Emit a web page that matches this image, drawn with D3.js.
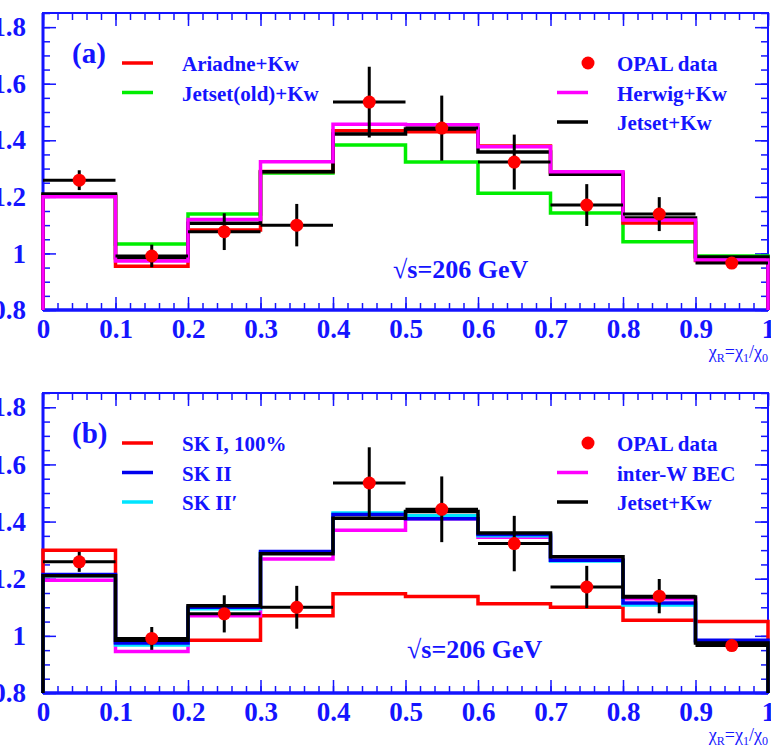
<!DOCTYPE html>
<html>
<head>
<meta charset="utf-8">
<script src="https://cdn.jsdelivr.net/npm/d3@7"></script>
<style>
  body { margin: 0; background: #fff; }
  text { font-family: "Liberation Serif", "Times New Roman", serif; font-weight: bold; fill: #1414ff; }
</style>
</head>
<body>
<div id="chart"></div>
<script>
// bin edges and OPAL points
var binEdges = [0, 0.1, 0.2, 0.3, 0.4, 0.5, 0.6, 0.7, 0.8, 0.9, 1.0];
var opalX = [0.05, 0.15, 0.25, 0.35, 0.45, 0.55, 0.65, 0.75, 0.85, 0.95];
var opalY = [1.259, 0.991, 1.077, 1.10, 1.535, 1.443, 1.323, 1.171, 1.139, 0.966];
var opalErr = [0.035, 0.04, 0.065, 0.075, 0.125, 0.115, 0.097, 0.074, 0.06, 0.015];

// panel (a) models
var ariadneKw = [1.205, 0.955, 1.083, 1.29, 1.434, 1.43, 1.38, 1.285, 1.108, 0.975];
var jetsetOldKw = [1.205, 1.033, 1.139, 1.284, 1.383, 1.323, 1.213, 1.143, 1.041, 0.991];
var herwigKw = [1.20, 0.973, 1.12, 1.324, 1.457, 1.455, 1.377, 1.289, 1.118, 0.977];
var jetsetKwA = [1.21, 0.985, 1.107, 1.289, 1.422, 1.44, 1.359, 1.28, 1.125, 0.987];

// panel (b) models
var skI = [1.30, 0.978, 0.985, 1.07, 1.147, 1.138, 1.112, 1.10, 1.055, 1.05];
var skII = [1.215, 0.975, 1.10, 1.295, 1.425, 1.41, 1.355, 1.265, 1.115, 0.985];
var skIIp = [1.21, 0.968, 1.095, 1.29, 1.43, 1.42, 1.35, 1.262, 1.108, 0.98];
var interW = [1.195, 0.945, 1.07, 1.269, 1.37, 1.41, 1.345, 1.265, 1.13, 0.98];
var jetsetKwB = [1.21, 0.985, 1.105, 1.287, 1.412, 1.435, 1.36, 1.277, 1.136, 0.975];

var xTicks = [0, 0.1, 0.2, 0.3, 0.4, 0.5, 0.6, 0.7, 0.8, 0.9, 1];
var yTicks = [0.8, 1.0, 1.2, 1.4, 1.6, 1.8];

var blue = "#1414ff";
var svg = d3.select("#chart").append("svg").attr("width", 771).attr("height", 749);

var x = d3.scaleLinear().domain([0, 1]).range([43, 768]);
var xMinor = d3.range(0, 1.001, 0.02);
var yMinor = d3.range(0.8, 1.851, 0.05);
var fmt = function(d){ return String(+d.toFixed(2)); };

function histPoints(vals, y0) {
  var pts = [[0, y0]];
  vals.forEach(function(v, i){ pts.push([binEdges[i], v]); pts.push([binEdges[i+1], v]); });
  pts.push([1, y0]);
  return pts;
}

function drawPanel(top, bottom, series, tag, legL, legR) {
  var y = d3.scaleLinear().domain([0.8, 1.85]).range([bottom, top]);
  var g = svg.append("g");

  // minor ticks
  g.append("g").attr("transform", "translate(0," + bottom + ")")
    .call(d3.axisBottom(x).tickValues(xMinor).tickSize(-7).tickFormat(""));
  g.append("g").attr("transform", "translate(0," + top + ")")
    .call(d3.axisTop(x).tickValues(xMinor).tickSize(-7).tickFormat(""));
  g.append("g").attr("transform", "translate(43,0)")
    .call(d3.axisLeft(y).tickValues(yMinor).tickSize(-7).tickFormat(""));
  g.append("g").attr("transform", "translate(768,0)")
    .call(d3.axisRight(y).tickValues(yMinor).tickSize(-7).tickFormat(""));

  // major ticks with labels
  g.append("g").attr("class", "xax").attr("transform", "translate(0," + bottom + ")")
    .call(d3.axisBottom(x).tickValues(xTicks).tickSize(-13).tickPadding(9).tickFormat(fmt));
  g.append("g").attr("transform", "translate(0," + top + ")")
    .call(d3.axisTop(x).tickValues(xTicks).tickSize(-13).tickFormat(""));
  g.append("g").attr("class", "yax").attr("transform", "translate(43,0)")
    .call(d3.axisLeft(y).tickValues(yTicks).tickSize(-13).tickPadding(17).tickFormat(fmt));
  g.append("g").attr("transform", "translate(768,0)")
    .call(d3.axisRight(y).tickValues(yTicks).tickSize(-13).tickFormat(""));

  g.selectAll(".domain").remove();
  g.selectAll(".tick line").attr("stroke", blue).attr("stroke-width", 1.5);
  g.selectAll(".tick text").style("font-size", "27px").style("font-family", "Liberation Serif, serif")
    .style("font-weight", "bold").attr("fill", blue);

  // frame
  g.append("rect").attr("x", 43).attr("y", top).attr("width", 725).attr("height", bottom - top)
    .attr("fill", "none").attr("stroke", blue).attr("stroke-width", 2);
  g.append("line").attr("x1", 43).attr("x2", 768).attr("y1", bottom).attr("y2", bottom)
    .attr("stroke", blue).attr("stroke-width", 3.5);
  g.append("line").attr("x1", 43).attr("x2", 43).attr("y1", top).attr("y2", bottom)
    .attr("stroke", blue).attr("stroke-width", 3);

  // histograms
  var line = d3.line().x(function(d){ return x(d[0]); }).y(function(d){ return y(d[1]); });
  series.forEach(function(s){
    g.append("path").attr("d", line(histPoints(s.values, 0.8)))
      .attr("fill", "none").attr("stroke", s.color).attr("stroke-width", 3.5);
  });

  // OPAL data
  opalX.forEach(function(xv, i){
    g.append("line").attr("x1", x(xv - 0.05)).attr("x2", x(xv + 0.05))
      .attr("y1", y(opalY[i])).attr("y2", y(opalY[i]))
      .attr("stroke", "black").attr("stroke-width", 3);
    g.append("line").attr("x1", x(xv)).attr("x2", x(xv))
      .attr("y1", y(opalY[i] - opalErr[i])).attr("y2", y(opalY[i] + opalErr[i]))
      .attr("stroke", "black").attr("stroke-width", 3);
  });
  g.selectAll("circle.opal").data(opalX).enter().append("circle").attr("class", "opal")
    .attr("cx", function(d){ return x(d); })
    .attr("cy", function(d, i){ return y(opalY[i]); })
    .attr("r", 6.5).attr("fill", "#ff0000");

  // labels
  g.append("text").attr("x", 72).attr("y", top + 50).style("font-size", "29px").text(tag);
  legL.forEach(function(l, i){
    var ly = top + 50 + i * 29.5;
    g.append("line").attr("x1", 122).attr("x2", 153).attr("y1", ly).attr("y2", ly)
      .attr("stroke", l.color).attr("stroke-width", 3.5);
    g.append("text").attr("x", 182).attr("y", ly + 8).style("font-size", "21px").text(l.label);
  });
  legR.forEach(function(l, i){
    var ly = top + 50 + i * 29.5;
    if (l.dot) {
      g.append("circle").attr("cx", 588).attr("cy", ly).attr("r", 6.5).attr("fill", "#ff0000");
    } else {
      g.append("line").attr("x1", 557).attr("x2", 588).attr("y1", ly).attr("y2", ly)
        .attr("stroke", l.color).attr("stroke-width", 3.5);
    }
    g.append("text").attr("x", 617).attr("y", ly + 8).style("font-size", "21px").text(l.label);
  });

  var sq = g.append("text").attr("x", top < 100 ? 393 : 407).attr("y", top + 265).style("font-size", "26px");
  sq.append("tspan").text("\u221As=206 GeV");

  var xt = g.append("text").attr("x", 768).attr("y", bottom + 48).attr("text-anchor", "end")
    .style("font-size", "18px").style("font-weight", "normal");
  xt.append("tspan").text("\u03C7");
  xt.append("tspan").attr("dy", 4).style("font-size", "12px").text("R");
  xt.append("tspan").attr("dy", -4).text("=\u03C7");
  xt.append("tspan").attr("dy", 4).style("font-size", "12px").text("1");
  xt.append("tspan").attr("dy", -4).text("/\u03C7");
  xt.append("tspan").attr("dy", 4).style("font-size", "12px").text("0");
}

drawPanel(13, 310,
  [{values: jetsetOldKw, color: "#00ee00"},
   {values: ariadneKw, color: "#ff0000"},
   {values: jetsetKwA, color: "#000000"},
   {values: herwigKw, color: "#ff00ff"}],
  "(a)",
  [{label: "Ariadne+Kw", color: "#ff0000"}, {label: "Jetset(old)+Kw", color: "#00ee00"}],
  [{label: "OPAL data", dot: true}, {label: "Herwig+Kw", color: "#ff00ff"}, {label: "Jetset+Kw", color: "#000000"}]);

drawPanel(393, 693,
  [{values: skI, color: "#ff0000"},
   {values: interW, color: "#ff00ff"},
   {values: skIIp, color: "#00e5ff"},
   {values: skII, color: "#0000ee"},
   {values: jetsetKwB, color: "#000000"}],
  "(b)",
  [{label: "SK I, 100%", color: "#ff0000"}, {label: "SK II", color: "#0000ee"}, {label: "SK II\u2032", color: "#00e5ff"}],
  [{label: "OPAL data", dot: true}, {label: "inter-W BEC", color: "#ff00ff"}, {label: "Jetset+Kw", color: "#000000"}]);
</script>
</body>
</html>
